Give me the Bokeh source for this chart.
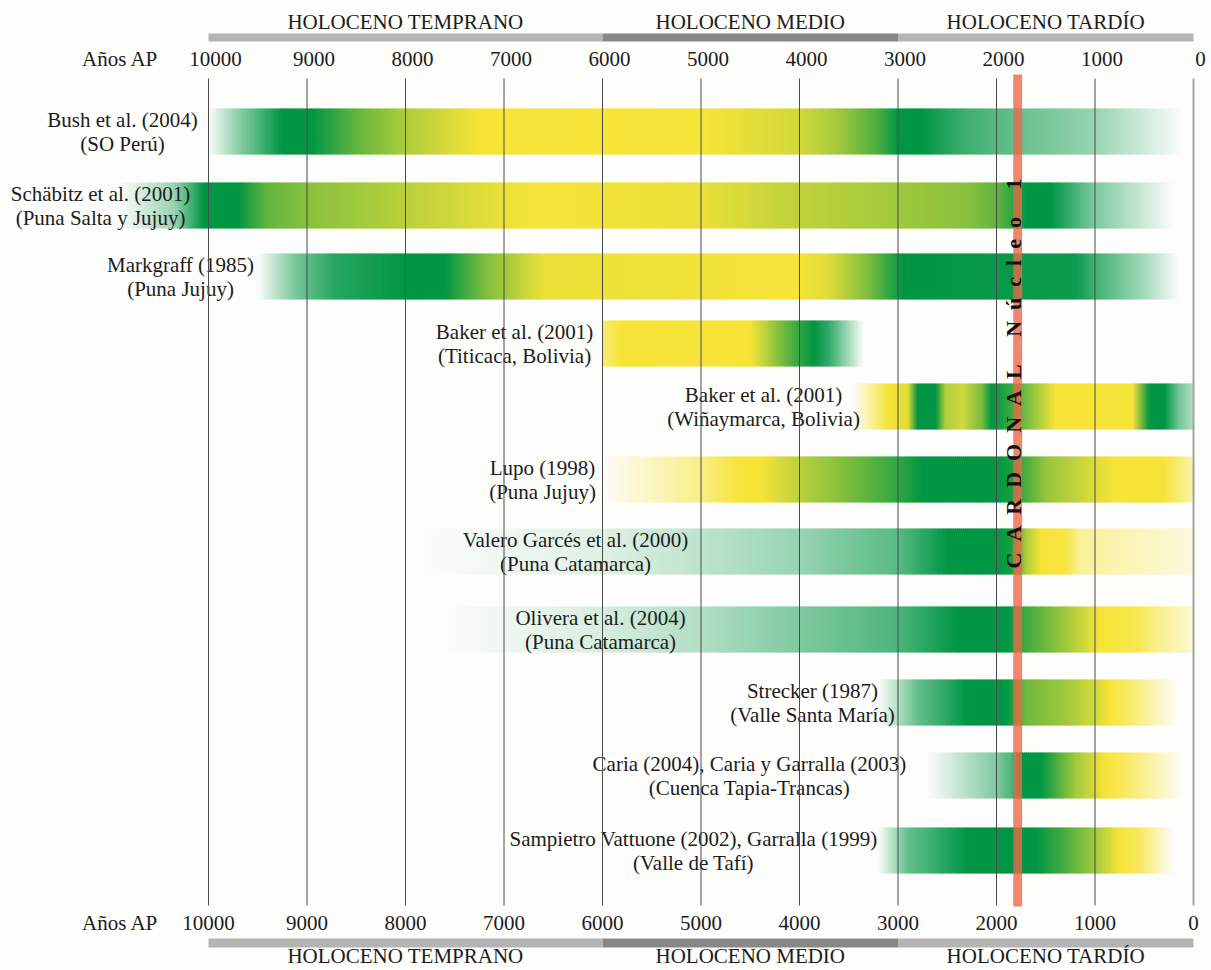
import numpy as np
from bokeh.plotting import figure
from bokeh.models import Range1d, ColumnDataSource
from bokeh.embed import file_html
from bokeh.resources import INLINE
from bokeh.core.properties import value

# ---------------- data ----------------
STUDIES = [
    "Bush et al. (2004)",
    "Schäbitz et al. (2001)",
    "Markgraff (1985)",
    "Baker et al. (2001)",
    "Baker et al. (2001)",
    "Lupo (1998)",
    "Valero Garcés et al. (2000)",
    "Olivera et al. (2004)",
    "Strecker (1987)",
    "Caria (2004), Caria y Garralla (2003)",
    "Sampietro Vattuone (2002), Garralla (1999)",
]
REGIONS = [
    "(SO Perú)",
    "(Puna Salta y Jujuy)",
    "(Puna Jujuy)",
    "(Titicaca, Bolivia)",
    "(Wiñaymarca, Bolivia)",
    "(Puna Jujuy)",
    "(Puna Catamarca)",
    "(Puna Catamarca)",
    "(Valle Santa María)",
    "(Cuenca Tapia-Trancas)",
    "(Valle de Tafí)",
]

# colour stops per record: (años AP, humedad 0=árido/amarillo .. 1=húmedo/verde, intensidad 0..1)
BUSH = [(10000, 1, 0), (9700, 1, 0.45), (9250, 1, 1), (8950, 1, 1), (8500, 0.6, 1),
        (8000, 0.3, 1), (7250, 0, 1), (5000, 0, 1), (4000, 0.15, 1), (3600, 0.35, 1),
        (3200, 0.7, 1), (3000, 1, 1), (2750, 1, 1), (2300, 1, 0.75), (1800, 1, 0.6),
        (1000, 1, 0.4), (100, 1, 0)]
SCHABITZ = [(10900, 1, 0), (10350, 1, 0.4), (10050, 1, 1), (9700, 1, 1), (9400, 0.6, 1),
            (9000, 0.45, 1), (8000, 0.25, 1), (7000, 0.05, 1), (6700, 0, 1), (5000, 0.05, 1),
            (4200, 0.2, 1), (3000, 0.35, 1), (2300, 0.45, 1), (2000, 0.6, 1), (1700, 1, 1),
            (1450, 1, 1), (1000, 1, 0.5), (200, 1, 0)]
MARKGRAFF = [(9500, 1, 0), (9100, 1, 0.55), (8700, 1, 0.85), (8000, 1, 1), (7600, 1, 1),
             (7200, 0.5, 1), (6600, 0.05, 1), (4000, 0, 1), (3700, 0.1, 1), (3300, 0.5, 1),
             (2950, 1, 1), (1200, 1, 0.95), (1000, 1, 0.75), (500, 1, 0.35), (150, 1, 0)]
TITICACA = [(6000, 0, 0.7), (5800, 0, 1), (4500, 0, 1), (4000, 0.8, 1), (3850, 1, 1),
            (3700, 1, 0.8), (3350, 1, 0)]
WINAYMARCA = [(3450, 0, 0), (3100, 0, 1), (2900, 0.1, 1), (2800, 1, 1), (2620, 1, 1),
              (2520, 0.3, 1), (2350, 0.15, 1), (2150, 0.5, 1), (2050, 1, 1), (1800, 0.7, 1),
              (1600, 0.35, 1), (1400, 0, 1), (620, 0, 1), (450, 1, 1), (300, 1, 1),
              (150, 1, 0.55), (0, 1, 0.3)]
LUPO = [(6000, 0, 0), (5000, 0, 0.6), (4600, 0, 1), (4400, 0, 1), (3900, 0.3, 1),
        (3600, 0.45, 1), (3000, 0.8, 1), (2750, 1, 1), (2000, 1, 1), (1800, 0.85, 1),
        (1500, 0.4, 1), (1000, 0.1, 1), (800, 0, 1), (300, 0, 1), (0, 0, 0.4)]
VALERO = [(7800, 1, 0), (6000, 1, 0.12), (5000, 1, 0.25), (4000, 1, 0.4), (3000, 1, 0.65),
          (2500, 1, 1), (2000, 1, 1), (1850, 0.9, 1), (1700, 0.3, 1), (1550, 0, 1),
          (1300, 0, 0.95), (1150, 0, 0.5), (0, 0, 0.15)]
OLIVERA = [(7600, 1, 0), (6000, 1, 0.15), (5000, 1, 0.3), (4000, 1, 0.5), (3000, 1, 0.7),
           (2400, 1, 1), (1900, 1, 1), (1700, 0.75, 1), (1400, 0.45, 1), (1100, 0.15, 1),
           (950, 0, 1), (600, 0, 0.9), (300, 0, 0.5), (0, 0, 0.2)]
STRECKER = [(3200, 1, 0), (2800, 1, 0.6), (2300, 1, 1), (1900, 1, 1), (1700, 0.55, 1),
            (1300, 0.35, 1), (1000, 0.15, 1), (850, 0, 1), (650, 0, 0.75), (150, 0, 0)]
CARIA = [(2700, 1, 0), (2000, 1, 0.5), (1850, 1, 0.7), (1750, 1, 1), (1550, 1, 1),
         (1200, 0.35, 1), (900, 0, 1), (700, 0, 0.8), (100, 0, 0)]
SAMPIETRO = [(3200, 1, 0), (2900, 1, 0.6), (2300, 1, 1), (1600, 1, 1), (1300, 0.7, 1),
             (1000, 0.35, 1), (750, 0, 1), (550, 0, 0.8), (200, 0, 0)]
RECORDS = [BUSH, SCHABITZ, MARKGRAFF, TITICACA, WINAYMARCA, LUPO, VALERO, OLIVERA,
           STRECKER, CARIA, SAMPIETRO]

TICKS = [10000, 9000, 8000, 7000, 6000, 5000, 4000, 3000, 2000, 1000, 0]
AXIS_TITLE = "Años AP"
PERIODS = ["HOLOCENO TEMPRANO", "HOLOCENO MEDIO", "HOLOCENO TARDÍO"]
PERIOD_START = [10000, 6000, 3000]
PERIOD_END = [6000, 3000, 0]
CORE_LABEL = "CARDONAL Núcleo 1"
CORE_START = 1830
CORE_END = 1740

# ---------------- layout / style ----------------
W, H = 1211, 970
PX_PER_KYR = 98.5            # pixels per 1000 years
X0 = 208                     # canvas x of 10000 años AP
YR0 = 10000 + X0 * 1000 / PX_PER_KYR
YR1 = YR0 - W * 1000 / PX_PER_KYR
ROW_Y = [131, 205, 276, 343, 406, 479, 551, 629, 702, 775, 850]
BAND_HALF = 23
LABEL_X = [10873, 11096, 10284, 6893, 4365, 6609, 6274, 6020, 3868, 4508, 5076]
LINE_DY = 12
TICK_Y_TOP, TICK_Y_BOT = 58, 922
HEAD_Y_TOP, HEAD_Y_BOT = 21, 955
BAR_TOP = (33, 41)
BAR_BOT = (938, 947)
GRID_Y = (78, 905)
CORE_Y = (74, 906)
CORE_TEXT_Y = 373
TITLE_X = 10508

BG = "#fdfdfb"
BG_RGB = np.array([253, 253, 251], float)
YELLOW = np.array([247, 228, 56], float)
GREEN = np.array([0, 150, 68], float)
TXT = "#1c1c1c"
SERIF = value("Liberation Serif")


def band(stops, yc, step=20, overlap=8):
    yrs = np.array([s[0] for s in stops], float)
    wet = np.array([s[1] for s in stops], float)
    inten = np.array([s[2] for s in stops], float)
    order = np.argsort(yrs)
    hi, lo = yrs.max(), yrs.min()
    edges = np.arange(hi, lo, -step)
    edges = np.append(edges, lo)
    left, right = edges[:-1], edges[1:]
    mid = (left + right) / 2
    w = np.interp(mid, yrs[order], wet[order])[:, None]
    a = np.interp(mid, yrs[order], inten[order])[:, None]
    rgb = YELLOW * (1 - w) + GREEN * w
    rgb = BG_RGB * (1 - a) + rgb * a
    cols = ["#%02x%02x%02x" % tuple(int(round(c)) for c in r) for r in rgb]
    n = len(left)
    return dict(left=list(left), right=list(right - overlap),
                top=[yc - BAND_HALF] * n, bottom=[yc + BAND_HALF] * n, color=cols)


p = figure(width=W, height=H, x_range=Range1d(YR0, YR1), y_range=Range1d(H, 0),
           output_backend="svg", toolbar_location=None, min_border=0,
           x_axis_location=None, y_axis_location=None,
           background_fill_color=BG, border_fill_color=BG, outline_line_color=None)
p.grid.visible = False

# gradient bands
data = dict(left=[], right=[], top=[], bottom=[], color=[])
for rec, yc in zip(RECORDS, ROW_Y):
    d = band(rec, yc)
    for k in data:
        data[k].extend(d[k])
p.quad(left="left", right="right", top="top", bottom="bottom", fill_color="color",
       line_color=None, source=ColumnDataSource(data))

# record labels (two centred lines)
p.text(x=LABEL_X, y=[y - LINE_DY for y in ROW_Y], text=STUDIES, text_font=SERIF,
       text_font_size="21px", text_align="center", text_baseline="middle", text_color=TXT)
p.text(x=LABEL_X, y=[y + LINE_DY for y in ROW_Y], text=REGIONS, text_font=SERIF,
       text_font_size="21px", text_align="center", text_baseline="middle", text_color=TXT)

# vertical time lines
p.segment(x0=TICKS, x1=TICKS, y0=[GRID_Y[0]] * len(TICKS), y1=[GRID_Y[1]] * len(TICKS),
          line_color=["#4a4a4a"] * (len(TICKS) - 1) + ["#a3a3a3"],
          line_width=[1] * (len(TICKS) - 1) + [2])

# CARDONAL core
p.quad(left=[CORE_START], right=[CORE_END], top=[CORE_Y[0]], bottom=[CORE_Y[1]],
       fill_color="#ea694a", fill_alpha=0.8, line_color=None)
NB = "\u00a0"
spaced = (NB * 5).join((NB * 2).join(list(word)) for word in CORE_LABEL.split(" "))
p.text(x=[CORE_START], y=[CORE_TEXT_Y], text=[spaced], angle=np.pi / 2,
       text_font=SERIF, text_font_style="bold", text_font_size="22px",
       text_align="center", text_baseline="middle", text_color="#111111")

# period bars and headings
PCOL = ["#b4b4b4", "#878787", "#b4b4b4"]
for (t, b) in (BAR_TOP, BAR_BOT):
    p.quad(left=PERIOD_START, right=PERIOD_END, top=[t] * 3, bottom=[b] * 3,
           fill_color=PCOL, line_color=None)
mids = [(a + b) / 2 for a, b in zip(PERIOD_START, PERIOD_END)]
p.text(x=mids, y=[HEAD_Y_TOP] * 3, text=PERIODS, text_font=SERIF, text_font_size="21px",
       text_align="center", text_baseline="middle", text_color=TXT)
p.text(x=mids, y=[HEAD_Y_BOT] * 3, text=PERIODS, text_font=SERIF, text_font_size="21px",
       text_align="center", text_baseline="middle", text_color=TXT)

# tick labels
labels = [str(t) for t in TICKS]
p.text(x=TICKS, y=[TICK_Y_TOP] * len(TICKS), text=labels, x_offset=7, text_font=SERIF,
       text_font_size="21px", text_align="center", text_baseline="middle", text_color=TXT)
p.text(x=TICKS, y=[TICK_Y_BOT] * len(TICKS), text=labels, text_font=SERIF,
       text_font_size="21px", text_align="center", text_baseline="middle", text_color=TXT)
p.text(x=[TITLE_X, TITLE_X], y=[TICK_Y_TOP, TICK_Y_BOT], text=[AXIS_TITLE] * 2,
       text_font=SERIF, text_font_size="21px", text_align="right", text_baseline="middle",
       text_color=TXT)

open("out.html", "w").write(file_html(p, INLINE))
